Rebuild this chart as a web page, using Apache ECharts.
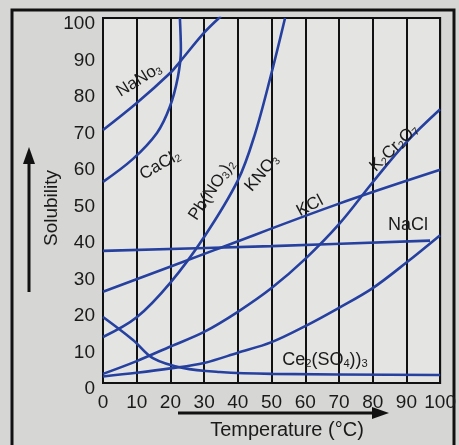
<!DOCTYPE html>
<html>
<head>
<meta charset="utf-8">
<script src="https://cdn.jsdelivr.net/npm/echarts/dist/echarts.min.js"></script>
<style>
  html, body { margin: 0; padding: 0; background: #d6d6d4; }
  #chart { width: 459px; height: 445px; }
</style>
</head>
<body>
<div id="chart"></div>
<script>
// axis ticks
const tempTicks = [0, 10, 20, 30, 40, 50, 60, 70, 80, 90, 100]
const solTicks = [0, 10, 20, 30, 40, 50, 60, 70, 80, 90, 100]

// curves, temperature (°C) and solubility
const nano3T = [0, 10, 20, 22.8, 30, 35]
const nano3S = [69.3, 76.7, 85, 88, 96, 100.5]

const cacl2T = [0, 8.9, 16, 19.8, 22.2, 23.1, 22.8]
const cacl2S = [55.1, 61.4, 68.5, 75.6, 83.8, 91.2, 100]

const kno3T = [0, 10, 20, 30, 40, 45, 50, 54]
const kno3S = [12.6, 18, 27.5, 40, 55.5, 68, 85, 100]

const kclT = [0, 33, 69, 100]
const kclS = [25, 36.4, 48.8, 58.4]

const naclT = [0, 50, 97]
const naclS = [36.2, 37.5, 39]

const k2cr2o7T = [0, 10, 20, 30, 40, 50, 60, 70, 80, 90, 100]
const k2cr2o7S = [2.5, 6, 10, 14, 19.5, 26, 34, 43.5, 55, 66, 75]

const lowT = [0, 10, 20, 30, 40, 50, 60, 70, 80, 90, 100]
const lowS = [1.8, 2.8, 4, 5.5, 8.3, 11.2, 15.6, 20.6, 26, 33, 40.5]

const ceT = [0, 8.9, 14.8, 23.7, 34.6, 50, 100]
const ceS = [18.1, 11.8, 6.8, 4.1, 3.0, 2.5, 2.2]

const pairs = (t, s) => t.map((v, i) => [v, s[i]])

const lineColor = '#26409f'
const ink = '#1a1a1a'
const font = 'Liberation Sans, Arial, sans-serif'

function curve(name, t, s) {
  return {
    name: name,
    type: 'line',
    data: pairs(t, s),
    smooth: 0.35,
    showSymbol: false,
    lineStyle: { color: lineColor, width: 2.6 },
    silent: true
  }
}

// rotated curve label with subscripts
function tag(x, y, deg, rich, size) {
  return {
    type: 'text',
    x: x,
    y: y,
    rotation: deg * Math.PI / 180,
    z: 100,
    style: {
      text: rich,
      align: 'center',
      verticalAlign: 'middle',
      rich: {
        n: { fontSize: size, fontFamily: font, fill: ink },
        s: { fontSize: size * 0.62, fontFamily: font, fill: ink, padding: [size * 0.45, 0, 0, 0] }
      }
    }
  }
}

let chart = echarts.init(document.getElementById('chart'))

let options = {
  backgroundColor: '#d6d6d4',
  animation: false,
  grid: {
    left: 103,
    top: 18,
    right: 18,
    bottom: 62,
    show: true,
    backgroundColor: '#e4e4e3',
    borderColor: '#111',
    borderWidth: 2
  },
  xAxis: {
    type: 'value',
    min: tempTicks[0],
    max: tempTicks[tempTicks.length - 1],
    interval: 10,
    axisLine: { show: true, lineStyle: { color: '#111', width: 2 } },
    axisTick: { show: false },
    splitLine: { show: true, lineStyle: { color: '#111', width: 2 } },
    axisLabel: { fontSize: 19, color: ink, fontFamily: font, margin: 10 }
  },
  yAxis: {
    type: 'value',
    min: solTicks[0],
    max: solTicks[solTicks.length - 1],
    interval: 10,
    axisLine: { show: true, lineStyle: { color: '#111', width: 2 } },
    axisTick: { show: false },
    splitLine: { show: false },
    axisLabel: { fontSize: 19, color: ink, fontFamily: font, margin: 8, verticalAlign: 'top', lineHeight: 12 }
  },
  series: [
    curve('NaNO3', nano3T, nano3S),
    curve('CaCl2', cacl2T, cacl2S),
    curve('KNO3', kno3T, kno3S),
    curve('KCl', kclT, kclS),
    curve('NaCl', naclT, naclS),
    curve('K2Cr2O7', k2cr2o7T, k2cr2o7S),
    curve('other', lowT, lowS),
    curve('Ce2(SO4)3', ceT, ceS)
  ],
  graphic: [
    // outer frame
    { type: 'rect', shape: { x: 12, y: 10, width: 442, height: 460 }, style: { fill: 'none', stroke: '#111', lineWidth: 3 } },
    // y arrow
    { type: 'line', shape: { x1: 29, y1: 292, x2: 29, y2: 160 }, style: { stroke: '#111', lineWidth: 3 } },
    { type: 'polygon', shape: { points: [[29, 147], [23, 164], [35, 164]] }, style: { fill: '#111' } },
    // x arrow
    { type: 'line', shape: { x1: 178, y1: 413, x2: 376, y2: 413 }, style: { stroke: '#111', lineWidth: 3 } },
    { type: 'polygon', shape: { points: [[389, 413], [372, 407], [372, 419]] }, style: { fill: '#111' } },
    // axis titles
    { type: 'text', x: 52, y: 208, rotation: Math.PI / 2, style: { text: 'Solubility', fontSize: 19, fontFamily: font, fill: ink, align: 'center', verticalAlign: 'middle' } },
    { type: 'text', x: 287, y: 430, style: { text: 'Temperature (°C)', fontSize: 20, fontFamily: font, fill: ink, align: 'center', verticalAlign: 'middle' } },
    // curve labels
    tag(139, 80, 32, '{n|NaNo}{s|3}', 17),
    tag(160, 165, 30, '{n|CaCl}{s|2}', 17),
    tag(212, 190, 56, '{n|Pb(NO}{s|3}{n|)}{s|2}', 17),
    tag(262, 173, 50, '{n|KNO}{s|3}', 17),
    tag(310, 206, 28, '{n|KCl}', 17),
    tag(394, 148, 44, '{n|K}{s|2}{n|Cr}{s|2}{n|O}{s|7}', 17),
    tag(408, 225, 0, '{n|NaCl}', 18),
    tag(325, 360, 0, '{n|Ce}{s|2}{n|(SO}{s|4}{n|))}{s|3}', 18)
  ]
}

chart.setOption(options)
window.addEventListener('resize', function () {
  chart.resize()
})
</script>
</body>
</html>
